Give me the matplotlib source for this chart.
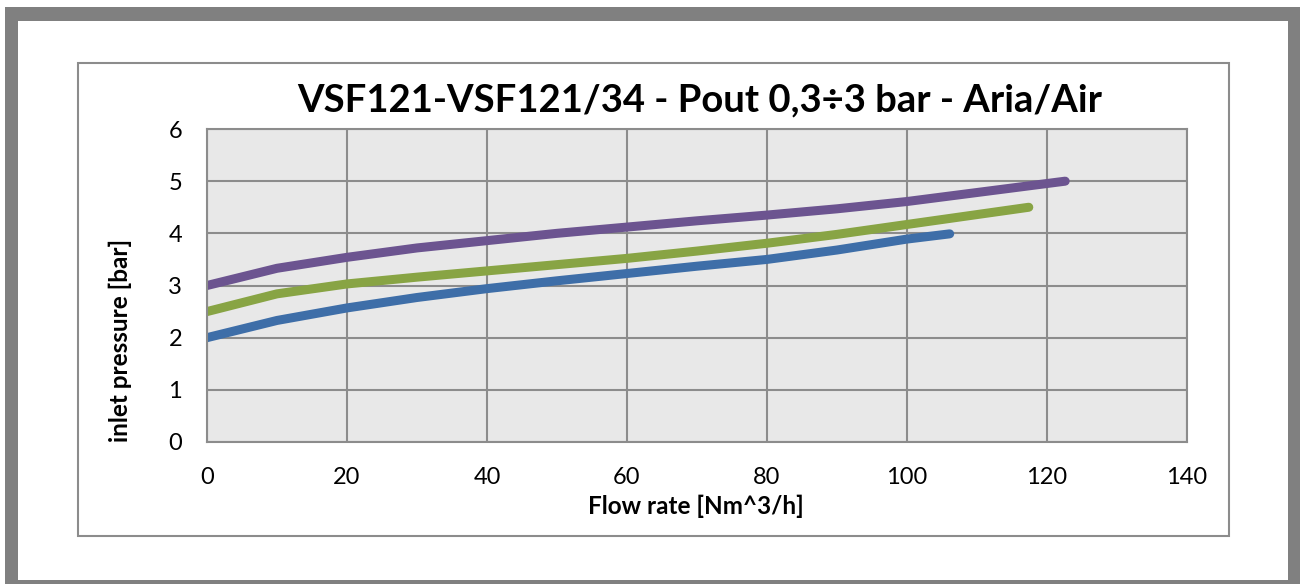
import matplotlib.pyplot as plt
from matplotlib.patches import Rectangle

plt.rcParams['font.family'] = ['Lato', 'DejaVu Sans']

# flow rate [Nm^3/h] and inlet pressure [bar] for each outlet setting
flow_blue = [0, 10, 20, 30, 40, 50, 60, 70, 80, 90, 100, 106.1]
p_blue = [2.0, 2.33, 2.57, 2.77, 2.94, 3.09, 3.23, 3.37, 3.50, 3.68, 3.89, 3.99]

flow_green = [0, 10, 20, 30, 40, 50, 60, 70, 80, 90, 100, 117.4]
p_green = [2.5, 2.84, 3.03, 3.16, 3.28, 3.40, 3.52, 3.66, 3.81, 3.98, 4.17, 4.5]

flow_purple = [0, 10, 20, 30, 40, 50, 60, 70, 80, 90, 100, 122.6]
p_purple = [3.0, 3.33, 3.54, 3.72, 3.86, 4.0, 4.12, 4.24, 4.35, 4.47, 4.61, 5.0]

x_ticks = [0, 20, 40, 60, 80, 100, 120, 140]
y_ticks = [0, 1, 2, 3, 4, 5, 6]

W, H = 1300, 584
fig = plt.figure(figsize=(13, 5.84), dpi=100)

# outer gray frame and inner chart border (pixel coords -> figure coords)
def px_rect(x0, y0, x1, y1, **kw):
    return Rectangle((x0 / W, 1 - y1 / H), (x1 - x0) / W, (y1 - y0) / H,
                     transform=fig.transFigure, zorder=-5, **kw)

fig.patches.append(px_rect(5, 7, 1300, 584, facecolor='#808080', edgecolor='none'))
fig.patches.append(px_rect(18, 21, 1288, 580, facecolor='white', edgecolor='none'))
fig.patches.append(px_rect(78, 63, 1229, 536, facecolor='none', edgecolor='#8c8c8c', lw=1.5))

ax = fig.add_axes([207 / W, 1 - 442 / H, (1187 - 207) / W, (442 - 129) / H])
ax.set_facecolor('#e8e8e8')

lw = 6.5
ax.plot(flow_blue, p_blue, color='#3e6ea8', lw=lw, solid_capstyle='round', solid_joinstyle='round')
ax.plot(flow_green, p_green, color='#88a444', lw=lw, solid_capstyle='round', solid_joinstyle='round')
ax.plot(flow_purple, p_purple, color='#6c5490', lw=lw, solid_capstyle='round', solid_joinstyle='round')

ax.set_xlim(0, 140)
ax.set_ylim(0, 6)
ax.set_xticks(x_ticks)
ax.set_yticks(y_ticks)
ax.grid(True, color='#8c8c8c', lw=1.5)
ax.set_axisbelow(True)
for s in ax.spines.values():
    s.set_color('#8c8c8c')
    s.set_linewidth(1.5)
ax.tick_params(length=0, labelsize=17, colors='black')
ax.tick_params(axis='x', pad=18)
ax.tick_params(axis='y', pad=18)

fig.text(696 / W, 1 - 506 / H, 'Flow rate [Nm^3/h]', ha='center', va='center',
         fontsize=17.5, fontweight='bold')
fig.text(120 / W, 1 - 340 / H, 'inlet pressure [bar]', ha='center', va='center',
         rotation=90, fontsize=17.5, fontweight='bold')

fig.text(700 / W, 1 - 100 / H, 'VSF121-VSF121/34 - Pout 0,3÷3 bar - Aria/Air',
         ha='center', va='center', fontsize=27.5, fontweight='bold')

fig.savefig('out.png', dpi=100)
